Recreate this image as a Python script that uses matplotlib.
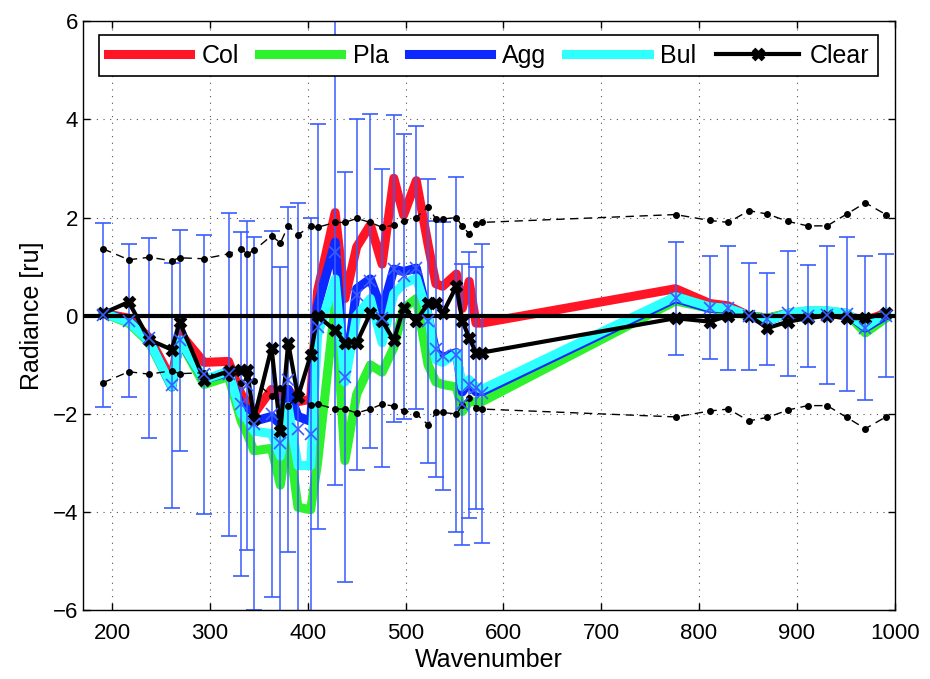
import matplotlib.pyplot as plt
import numpy as np

plt.rcParams['font.family'] = ['Liberation Sans', 'DejaVu Sans']
plt.rcParams['font.size'] = 16

# wavenumber sample points
wn = [191, 217, 238, 261, 269, 294, 319, 332, 338, 345, 363, 372, 380, 390,
      403, 410, 428, 438, 450, 464, 476, 488, 498, 511, 523, 531, 538, 552,
      558, 565, 572, 578, 776, 811, 830, 851, 870, 891, 911, 931, 951, 970, 991]

col = [0.05, -0.05, -0.45, -1.3, -0.35, -0.95, -0.93, -1.6, -1.75, -2.0, -1.5,
       -1.65, -1.5, -1.75, -1.7, 0.5, 2.1, 0.35, 1.4, 1.85, 1.05, 2.8, 2.05, 2.75,
       1.45, 0.65, 0.6, 0.85, 0.15, 0.7, -0.15, -0.15, 0.55, 0.25, 0.2, 0.0,
       -0.05, 0.05, 0.05, 0.05, 0.0, -0.1, 0.05]
pla = [0.05, -0.15, -0.55, -1.45, -0.5, -1.4, -1.24, -2.15, -2.4, -2.75, -2.7,
       -3.45, -2.4, -3.9, -3.95, -3.0, 0.25, -2.95, -1.6, -1.0, -1.15, -0.65, 0.15,
       0.35, -1.0, -1.35, -1.4, -1.45, -1.95, -1.75, -1.75, -1.75, 0.3, 0.15, 0.1,
       0.0, -0.05, 0.05, 0.1, 0.1, 0.05, -0.35, -0.05]
agg = [0.05, -0.1, -0.5, -1.45, -0.5, -1.3, -1.15, -1.85, -1.9, -2.15, -2.05,
       -2.2, -1.5, -2.05, -2.15, 0.2, 1.5, -1.3, 0.55, 0.75, 0.1, 0.95, 0.9, 0.97,
       0.0, -0.75, -0.85, -0.75, -1.55, -1.35, -1.55, -1.55, 0.35, 0.15, 0.15, 0.0,
       -0.1, 0.05, 0.05, 0.05, 0.05, -0.25, 0.0]
bul = [0.05, -0.12, -0.52, -1.44, -0.49, -1.3, -1.13, -2.0, -2.1, -2.35, -2.4,
       -2.86, -1.85, -3.05, -3.05, -0.4, 0.75, -1.35, 0.0, 0.35, -0.55, 0.45, 0.65,
       0.77, 0.0, -0.9, -0.95, -0.77, -1.45, -1.3, -1.45, -1.5, 0.39, 0.18, 0.15,
       0.0, -0.1, 0.05, 0.1, 0.1, 0.05, -0.22, 0.05]
clear = [0.05, 0.28, -0.49, -0.69, -0.12, -1.3, -1.13, -1.1, -1.1, -2.1, -0.65,
         -2.35, -0.55, -1.65, -0.8, 0.0, -0.3, -0.55, -0.55, 0.05, -0.1, -0.5, 0.15,
         -0.1, 0.25, 0.25, 0.05, 0.6, -0.1, -0.45, -0.75, -0.75, -0.05, -0.12, 0.0,
         0.0, -0.25, -0.12, -0.05, 0.0, -0.05, -0.05, 0.05]

# noise level (dashed envelope, +/-)
sigma = [1.36, 1.14, 1.19, 1.12, 1.18, 1.16, 1.26, 1.36, 1.26, 1.33, 1.63, 1.48,
         1.83, 1.65, 1.82, 1.80, 1.90, 1.90, 1.98, 1.90, 1.80, 1.84, 1.93, 2.0,
         2.22, 1.97, 1.97, 2.0, 1.82, 1.67, 1.87, 1.90, 2.06, 1.94, 1.90, 2.14,
         2.07, 1.92, 1.83, 1.83, 2.07, 2.30, 2.06]

# error bar centres and half widths
ctr = [0.01, -0.1, -0.45, -1.42, -0.5, -1.19, -1.19, -1.8, -1.42, -2.2, -2.0,
       -2.6, -1.3, -2.3, -2.4, -0.22, 1.3, -1.25, 0.43, 0.7, -0.04, 0.96, 0.8,
       0.98, -0.1, -0.68, -0.82, -0.79, -1.8, -1.41, -1.47, -1.58, 0.36, 0.16,
       0.15, -0.01, -0.07, 0.05, -0.01, 0.02, 0.03, -0.25, 0.0]
half = [1.87, 1.56, 2.04, 2.49, 2.25, 2.84, 3.29, 3.5, 3.35, 3.8, 3.73, 3.6,
        3.52, 4.6, 4.4, 4.12, 4.75, 4.17, 3.57, 3.4, 3.03, 3.12, 2.9, 2.88, 2.89,
        2.6, 2.72, 3.62, 2.86, 2.7, 2.47, 3.05, 1.15, 1.05, 1.26, 1.09, 0.94,
        1.27, 1.04, 1.4, 1.57, 1.47, 1.25]

fig = plt.figure(figsize=(9.3, 6.79), dpi=100)
ax = fig.add_axes([0.089, 0.101, 0.873, 0.868])

lw = 6.5
for vals, c, name in [(col, '#ff1525', 'Col'), (pla, '#2ef22e', 'Pla'),
                      (agg, '#0a28ff', 'Agg'), (bul, '#2effff', 'Bul')]:
    ax.plot(wn, vals, color=c, lw=lw, label=name, solid_joinstyle='round')

ax.errorbar(wn, ctr, yerr=half, fmt='x', color='#3a5cff', ms=9, mew=1.2,
            elinewidth=1.1, capsize=5.5, capthick=1.1)

s = np.array(sigma)
ax.plot(wn, s, 'k--', marker='.', ms=8, lw=1, dashes=(6, 4))
ax.plot(wn, -s, 'k--', marker='.', ms=8, lw=1, dashes=(6, 4))
ax.axhline(0, color='k', lw=3)

ax.plot(wn, clear, color='k', lw=3, marker='x', ms=7, mew=3.8, label='Clear')

ax.set_xlim(170, 1000)
ax.set_ylim(-6, 6)
ax.set_xticks(np.arange(200, 1001, 100))
ax.set_yticks(np.arange(-6, 7, 2))
ax.tick_params(axis='x', pad=9)
ax.tick_params(direction='in', top=True, right=True, length=5, width=1,
               labelsize=16)
ax.grid(True, color='#555555', linestyle=(0, (1, 5)), lw=0.8)
for sp in ax.spines.values():
    sp.set_linewidth(1)
ax.set_xlabel('Wavenumber', fontsize=18, labelpad=3)
ax.set_ylabel('Radiance [ru]', fontsize=18, labelpad=6)

leg = ax.legend(loc='upper center', ncol=5, fancybox=False, framealpha=1,
                edgecolor='k', handlelength=3.3, handletextpad=0.45,
                columnspacing=0.8, fontsize=18, borderpad=0.35,
                borderaxespad=0.55, bbox_to_anchor=(0.5, 1.0))
leg.get_frame().set_linewidth(1.2)

fig.savefig('out.png', dpi=100)
